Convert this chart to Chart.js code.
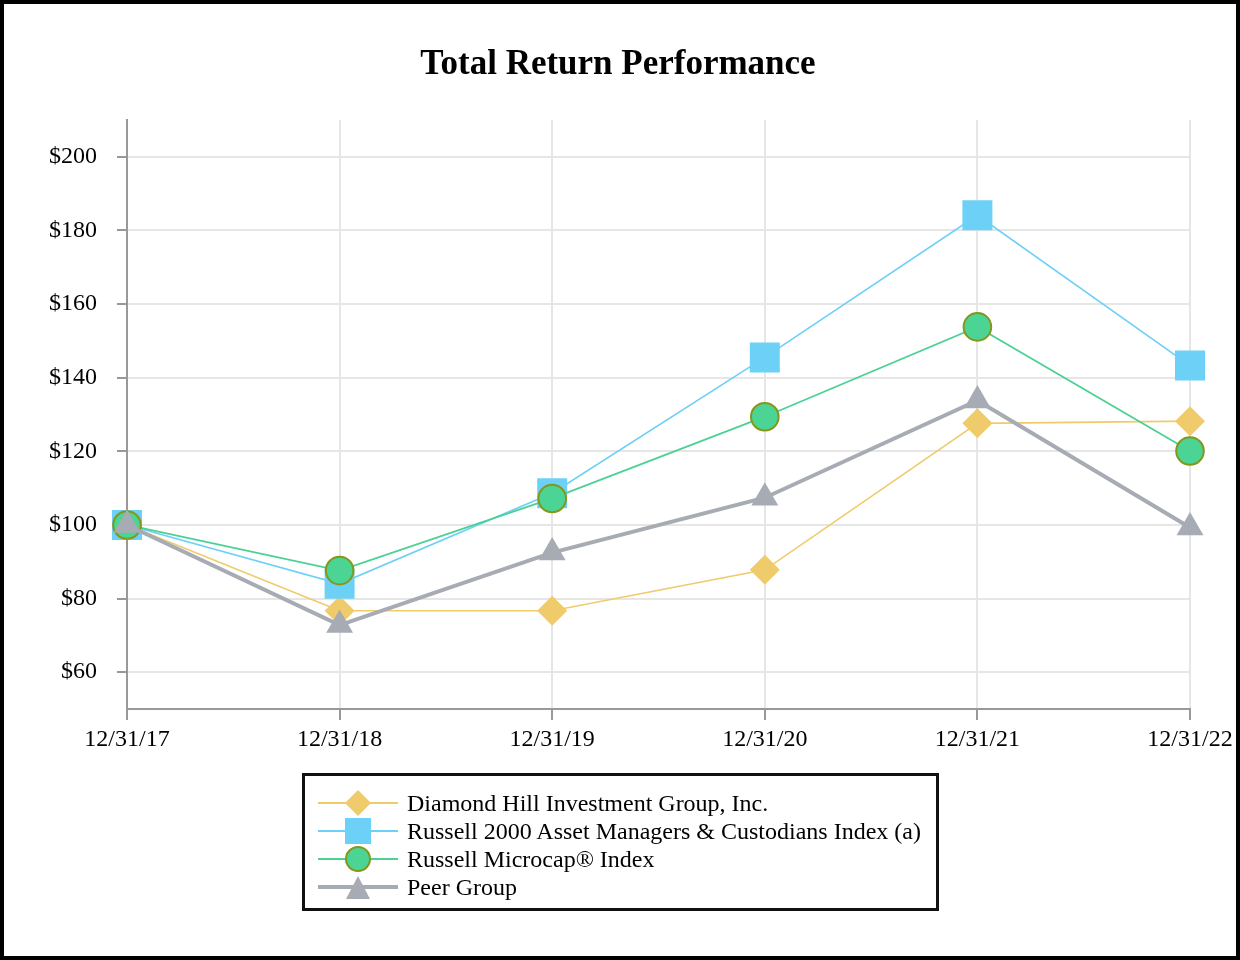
<!DOCTYPE html>
<html>
<head>
<meta charset="utf-8">
<script src="https://cdn.jsdelivr.net/npm/chart.js@4"></script>
<style>
  html, body { margin: 0; padding: 0; background: #fff; }
  #wrap { position: relative; width: 1240px; height: 960px; overflow: hidden; background: #fff; }
  #chart { position: absolute; left: 0; top: 0; }
  #frame { position: absolute; left: 0; top: 0; width: 1240px; height: 960px; box-sizing: border-box;
           border: 4px solid #000; pointer-events: none; }
  #legend { position: absolute; left: 302px; top: 773px; width: 637px; height: 138px; box-sizing: border-box;
            border: 3px solid #111; padding: 13px 0 0 13px; font-family: 'Liberation Serif', 'Times New Roman', serif;
            font-size: 24px; color: #000; }
  .row { height: 28px; display: flex; align-items: center; white-space: nowrap; }
  .row svg { width: 80px; height: 28px; flex: none; margin-right: 9px; }
</style>
</head>
<body>
<div id="wrap">
  <canvas id="chart" width="1240" height="960"></canvas>
  <div id="legend"></div>
  <div id="frame"></div>
</div>
<script>
const categories = ['12/31/17', '12/31/18', '12/31/19', '12/31/20', '12/31/21', '12/31/22'];
const diamondHill = [100, 76.7, 76.7, 87.8, 127.6, 128.2];
const russell2000AM = [100, 84.0, 108.6, 145.5, 184.1, 143.3];
const russellMicrocap = [100, 87.6, 107.2, 129.4, 153.8, 120.1];
const peerGroup = [100, 72.8, 92.5, 107.4, 133.8, 99.3];
const yTicks = [60, 80, 100, 120, 140, 160, 180, 200];
const seriesNames = [
  'Diamond Hill Investment Group, Inc.',
  'Russell 2000 Asset Managers & Custodians Index (a)',
  'Russell Microcap\u00AE Index',
  'Peer Group'
];

const C = {
  dh: '#EFCB6C', r2: '#6DD0F6', mcLine: '#4CD194', mcFill: '#4BD494', mcBorder: '#84971A', peer: '#A7ABB3'
};

Chart.defaults.font.family = "'Liberation Serif', 'Times New Roman', serif";
Chart.defaults.color = '#000';

const ctx = document.getElementById('chart');
new Chart(ctx, {
  type: 'line',
  data: {
    labels: categories,
    datasets: [
      { label: seriesNames[0], data: diamondHill, borderColor: C.dh, borderWidth: 1.6,
        pointStyle: 'rectRot', pointRadius: 15, pointBackgroundColor: C.dh, pointBorderWidth: 0, order: 3 },
      { label: seriesNames[1], data: russell2000AM, borderColor: C.r2, borderWidth: 1.6,
        pointStyle: 'rect', pointRadius: 21.2, pointBackgroundColor: C.r2, pointBorderWidth: 0, order: 2 },
      { label: seriesNames[2], data: russellMicrocap, borderColor: C.mcLine, borderWidth: 1.8,
        pointStyle: 'circle', pointRadius: 13.8, pointBackgroundColor: C.mcFill, pointBorderColor: C.mcBorder, pointBorderWidth: 2, order: 1 },
      { label: seriesNames[3], data: peerGroup, borderColor: C.peer, borderWidth: 4,
        pointStyle: 'triangle', pointRadius: 15.5, pointBackgroundColor: C.peer, pointBorderWidth: 0, order: 0 }
    ]
  },
  options: {
    responsive: false,
    animation: false,
    devicePixelRatio: 1,
    layout: { padding: { left: 46, right: 50, top: 44, bottom: 0 } },
    plugins: {
      legend: { display: false },
      tooltip: { enabled: false },
      title: {
        display: true, text: 'Total Return Performance', color: '#000',
        font: { size: 35, weight: 'bold', lineHeight: 1.2 },
        padding: { top: 0, bottom: 34 }
      }
    },
    scales: {
      x: {
        type: 'category', offset: false,
        grid: { color: '#E6E6E6', lineWidth: 2, tickColor: '#999', tickLength: 11, drawOnChartArea: true },
        border: { display: true, color: '#999', width: 2 },
        ticks: { font: { size: 24 }, color: '#000', padding: 5, maxRotation: 0, autoSkip: false },
        afterFit: (s) => { s.height = 251; }
      },
      y: {
        min: 50, max: 210,
        afterBuildTicks: (s) => { s.ticks = yTicks.map(v => ({ value: v })); },
        grid: { color: '#E6E6E6', lineWidth: 2, tickColor: '#999', tickLength: 10 },
        border: { display: true, color: '#999', width: 2 },
        ticks: { font: { size: 24 }, color: '#000', padding: 20, callback: (v) => '$' + v },
        afterFit: (s) => { s.width = 81; }
      }
    }
  }
});

// HTML legend
const legendSpecs = [
  { line: C.dh, lw: 2, marker: `<polygon points="40,1 53,14 40,27 27,14" fill="${C.dh}"/>` },
  { line: C.r2, lw: 2, marker: `<rect x="27" y="1" width="26" height="26" fill="${C.r2}"/>` },
  { line: C.mcLine, lw: 2, marker: `<ellipse cx="40" cy="14" rx="12" ry="12" fill="${C.mcFill}" stroke="${C.mcBorder}" stroke-width="2"/>` },
  { line: C.peer, lw: 4, marker: `<polygon points="40,3 52,26 28,26" fill="${C.peer}"/>` }
];
const lg = document.getElementById('legend');
seriesNames.forEach((name, i) => {
  const s = legendSpecs[i];
  const row = document.createElement('div');
  row.className = 'row';
  row.innerHTML = `<svg viewBox="0 0 80 28"><line x1="0" y1="14" x2="80" y2="14" stroke="${s.line}" stroke-width="${s.lw}"/>${s.marker}</svg><span></span>`;
  row.querySelector('span').textContent = name;
  lg.appendChild(row);
});
</script>
</body>
</html>
